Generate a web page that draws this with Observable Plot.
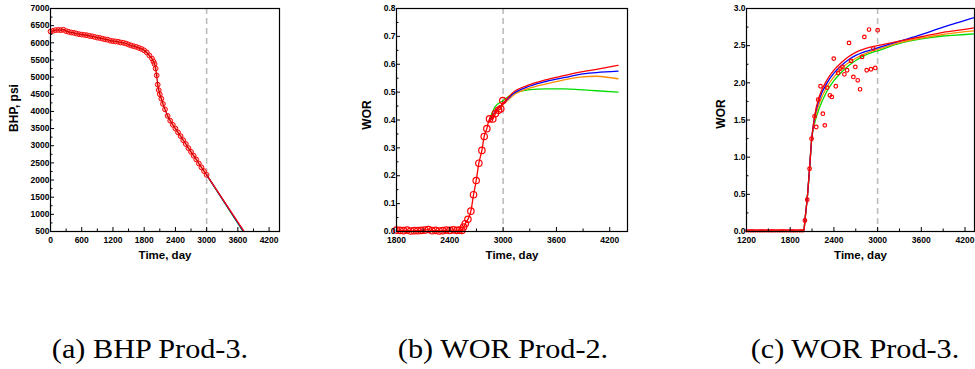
<!DOCTYPE html>
<html><head><meta charset="utf-8">
<script src="https://cdn.jsdelivr.net/npm/d3@7"></script>
<script src="https://cdn.jsdelivr.net/npm/@observablehq/plot@0.6"></script>
<style>
body{margin:0;background:#fff;}
#fig{position:relative;width:975px;height:369px;overflow:hidden;background:#fff;}
.panel{position:absolute;top:0;}
.cap{position:absolute;font-family:"Liberation Serif","Times New Roman",serif;font-size:27px;line-height:30px;transform:translateX(-50%) scaleX(1.12);white-space:nowrap;top:334px;color:#000;}
</style></head><body><div id="fig"></div>
<script>
// ---------- Panel (a): BHP Prod-3 ----------
const bhpTime = [0,50,100,150,200,250,300,350,400,450,500,550,600,650,700,750,800,850,900,950,1000,1050,1100,1150,1200,1250,1300,1350,1400,1450,1500,1550,1600,1650,1700,1750,1800,1850,1900,1950,1980,2000,2020,2040,2060,2080,2100,2130,2160,2200,2250,2300,2350,2400,2450,2500,2550,2600,2650,2700,2750,2800,2850,2900,2950,3000];
const bhpObs = [6330,6350,6370,6375,6370,6380,6340,6320,6300,6290,6270,6250,6240,6230,6220,6200,6190,6170,6150,6140,6120,6100,6090,6060,6050,6040,6030,6010,6000,5980,5950,5920,5900,5880,5850,5820,5780,5720,5630,5540,5450,5380,5250,5050,4780,4620,4500,4370,4220,4060,3870,3730,3610,3500,3390,3280,3160,3050,2930,2820,2710,2600,2480,2370,2260,2150];
const bhpFcTimeGreen = [3000, 3700];
const bhpFcTimeBlue = [3000, 3710];
const bhpFcTimeRed = [3000, 3720];
const bhpFcValues = [2150, 500];
const bhpXTicks = [0,600,1200,1800,2400,3000,3600,4200];
const bhpYTicks = [500,1000,1500,2000,2500,3000,3500,4000,4500,5000,5500,6000,6500,7000];

// ---------- Panel (b): WOR Prod-2 ----------
const wor2Time = [1800,1840,1880,1920,1960,2000,2040,2080,2120,2160,2200,2240,2280,2320,2360,2400,2440,2480,2510,2536,2555,2574,2604,2637,2667,2697,2727,2761,2787,2817,2847,2884,2914,2948,2974,2996];
const wor2Obs = [0.005,0.004,0.003,0.005,0.002,0.003,0.003,0.004,0.005,0.007,0.003,0.004,0.002,0.003,0.005,0.004,0.006,0.004,0.005,0.004,0.016,0.028,0.044,0.073,0.132,0.183,0.245,0.291,0.341,0.369,0.404,0.404,0.423,0.435,0.44,0.47];
const wor2FcTime = [2850,2910,3000,3116,3303,3490,3700,3864,4050,4293];
const wor2Red    = [0.395,0.428,0.460,0.500,0.527,0.545,0.560,0.572,0.582,0.596];
const wor2Blue   = [0.395,0.430,0.458,0.495,0.522,0.539,0.553,0.564,0.570,0.575];
const wor2Orange = [0.395,0.428,0.455,0.489,0.515,0.530,0.545,0.554,0.557,0.548];
const wor2Green  = [0.405,0.447,0.470,0.495,0.509,0.512,0.512,0.509,0.505,0.500];
const wor2XTicks = [1800,2400,3000,3600,4200];
const wor2YTicks = [0,0.1,0.2,0.3,0.4,0.5,0.6,0.7,0.8];

// ---------- Panel (c): WOR Prod-3 ----------
const wor3FlatTime = [1200,1225,1250,1275,1300,1325,1350,1375,1400,1425,1450,1475,1500,1525,1550,1575,1600,1625,1650,1675,1700,1725,1750,1775,1800,1825,1850,1875,1900,1925,1950,1975];
const wor3FlatObs = [0.01,0.01,0.01,0.01,0.01,0.01,0.01,0.01,0.01,0.01,0.01,0.01,0.01,0.01,0.01,0.01,0.01,0.01,0.01,0.01,0.01,0.01,0.01,0.01,0.01,0.01,0.01,0.01,0.01,0.01,0.01,0.01];
const wor3Time = [2002,2034,2066,2093,2134,2157,2184,2216,2248,2275,2307,2344,2371,2398,2426,2458,2490,2517,2544,2581,2608,2635,2667,2694,2727,2759,2786,2818,2850,2882,2909,2941,2968,3000];
const wor3Obs = [0.148,0.427,0.844,1.249,1.549,1.406,1.774,1.954,1.585,1.428,1.936,1.832,1.81,2.326,1.954,2.133,2.192,2.214,2.115,2.169,2.537,2.295,2.079,2.214,2.034,1.913,2.349,2.618,2.169,2.717,2.183,2.461,2.2,2.708];
const wor3ModelTime = [1200,1960,1990,2002,2034,2066,2093,2134,2200,2300,2400,2500,2600,2700,2800,2900,3000,3300,3600,3900,4200,4330];
const wor3Red    = [0,0,0.03,0.15,0.45,0.85,1.22,1.55,1.82,2.03,2.17,2.27,2.35,2.41,2.45,2.48,2.50,2.56,2.62,2.68,2.72,2.74];
const wor3Blue   = [0,0,0.03,0.15,0.45,0.85,1.22,1.53,1.78,1.99,2.13,2.23,2.31,2.37,2.41,2.44,2.47,2.56,2.65,2.75,2.84,2.88];
const wor3Orange = [0,0,0.03,0.15,0.45,0.85,1.22,1.49,1.72,1.94,2.08,2.19,2.27,2.33,2.38,2.42,2.45,2.54,2.60,2.65,2.69,2.70];
const wor3Green  = [0,0,0.03,0.15,0.45,0.85,1.22,1.45,1.66,1.88,2.03,2.14,2.23,2.30,2.36,2.40,2.43,2.53,2.59,2.63,2.65,2.66];
const wor3XTicks = [1200,1800,2400,3000,3600,4200];
const wor3YTicks = [0,0.5,1.0,1.5,2.0,2.5,3.0];

const splitTime = [3000];
const captions = ["(a) BHP Prod-3.", "(b) WOR Prod-2.", "(c) WOR Prod-3."];

const RED = "#ff0000", GREEN = "#00dd00", BLUE = "#0000ff", ORANGE = "#ff8c00";
const zip = (xs, ys) => xs.map((x, i) => ({t: x, v: ys[i]}));
const mids = ticks => ticks.slice(0, -1).map((d, i) => (d + ticks[i + 1]) / 2);

function panel({left, width, mL, mR, xDomain, yDomain, xTicks, yTicks, yFmt, yLabel, yLabelX, yLabelY, marks}) {
  const height = 270, mT = 8, mB = 39;
  const fig = Plot.plot({
    width, height, marginLeft: mL, marginRight: mR, marginTop: mT, marginBottom: mB,
    style: {fontFamily: "Liberation Sans, Arial, sans-serif", fontWeight: "bold", background: "transparent", color: "#000"},
    x: {domain: xDomain},
    y: {domain: yDomain},
    marks: [
      Plot.ruleX(splitTime, {stroke: "#bdbdbd", strokeWidth: 1.6, strokeDasharray: "6,4"}),
      ...marks,
      Plot.frame({stroke: "#000", strokeWidth: 1.2}),
      Plot.axisX(xTicks, {tickSize: -4, tickPadding: 9, fontSize: 8.5, fontWeight: "bold", tickFormat: d => String(d), label: null, strokeWidth: 1}),
      Plot.axisX(mids(xTicks), {tickSize: -2.5, text: null, label: null}),
      Plot.axisY(yTicks, {tickSize: -4, tickPadding: 5, fontSize: 8.5, fontWeight: "bold", tickFormat: yFmt, label: null}),
      Plot.axisY(mids(yTicks), {tickSize: -2.5, text: null, label: null}),
      Plot.text(["Time, day"], {frameAnchor: "bottom", dy: 27, fontSize: 11.5, fontWeight: "bold"})
    ]
  });
  const svg = d3.select(fig);
  svg.append("text").attr("transform", `translate(${yLabelX},${yLabelY}) rotate(-90)`)
    .attr("text-anchor", "middle").attr("dominant-baseline", "middle")
    .attr("font-size", 12).attr("font-weight", "bold").attr("fill", "#000").text(yLabel);
  fig.classList.add("panel");
  fig.style.left = left + "px";
  document.getElementById("fig").appendChild(fig);
}

const lineOpts = (stroke) => ({x: "t", y: "v", stroke, strokeWidth: 1.3, curve: "monotone-x", clip: true});

panel({
  left: 0, width: 290, mL: 50, mR: 11, xDomain: [0, 4400], yDomain: [500, 7000],
  xTicks: bhpXTicks, yTicks: bhpYTicks, yFmt: d => String(d), yLabel: "BHP, psi", yLabelX: 15, yLabelY: 108,
  marks: [
    Plot.dot(zip(bhpTime, bhpObs), {x: "t", y: "v", r: 2.4, stroke: RED, strokeWidth: 1, fill: "#ff9c9c", fillOpacity: 0.6}),
    Plot.line(zip(bhpTime, bhpObs), lineOpts("#d00000")),
    Plot.line(zip(bhpFcTimeGreen, bhpFcValues), lineOpts(GREEN)),
    Plot.line(zip(bhpFcTimeBlue, bhpFcValues), lineOpts(BLUE)),
    Plot.line(zip(bhpFcTimeRed, bhpFcValues), lineOpts(RED))
  ]
});

panel({
  left: 330, width: 300, mL: 66, mR: 3, xDomain: [1800, 4400], yDomain: [0, 0.8],
  xTicks: wor2XTicks, yTicks: wor2YTicks, yFmt: d3.format(".1f"), yLabel: "WOR", yLabelX: 38, yLabelY: 115,
  marks: [
    Plot.line(zip(wor2Time, wor2Obs), lineOpts(RED)),
    Plot.line(zip(wor2FcTime, wor2Green), lineOpts(GREEN)),
    Plot.line(zip(wor2FcTime, wor2Orange), lineOpts(ORANGE)),
    Plot.line(zip(wor2FcTime, wor2Blue), lineOpts(BLUE)),
    Plot.line(zip(wor2FcTime, wor2Red), lineOpts(RED)),
    Plot.dot(zip(wor2Time, wor2Obs), {x: "t", y: "v", r: 3.2, stroke: RED, strokeWidth: 1.2, fill: "none"})
  ]
});

panel({
  left: 690, width: 285, mL: 56, mR: 1, xDomain: [1200, 4330], yDomain: [0, 3],
  xTicks: wor3XTicks, yTicks: wor3YTicks, yFmt: d3.format(".1f"), yLabel: "WOR", yLabelX: 32, yLabelY: 114,
  marks: [
    Plot.line(zip(wor3ModelTime, wor3Green), lineOpts(GREEN)),
    Plot.line(zip(wor3ModelTime, wor3Orange), lineOpts(ORANGE)),
    Plot.line(zip(wor3ModelTime, wor3Blue), lineOpts(BLUE)),
    Plot.line(zip(wor3ModelTime, wor3Red), lineOpts(RED)),
    Plot.dot(zip(wor3FlatTime, wor3FlatObs), {x: "t", y: "v", r: 1.3, stroke: RED, strokeWidth: 1, fill: "none"}),
    Plot.dot(zip(wor3Time, wor3Obs), {x: "t", y: "v", r: 1.8, stroke: RED, strokeWidth: 1.2, fill: "none"})
  ]
});

const capX = [150, 503, 855];
captions.forEach((c, i) => {
  const d = document.createElement("div");
  d.className = "cap"; d.style.left = capX[i] + "px"; d.textContent = c;
  document.getElementById("fig").appendChild(d);
});
</script></body></html>
